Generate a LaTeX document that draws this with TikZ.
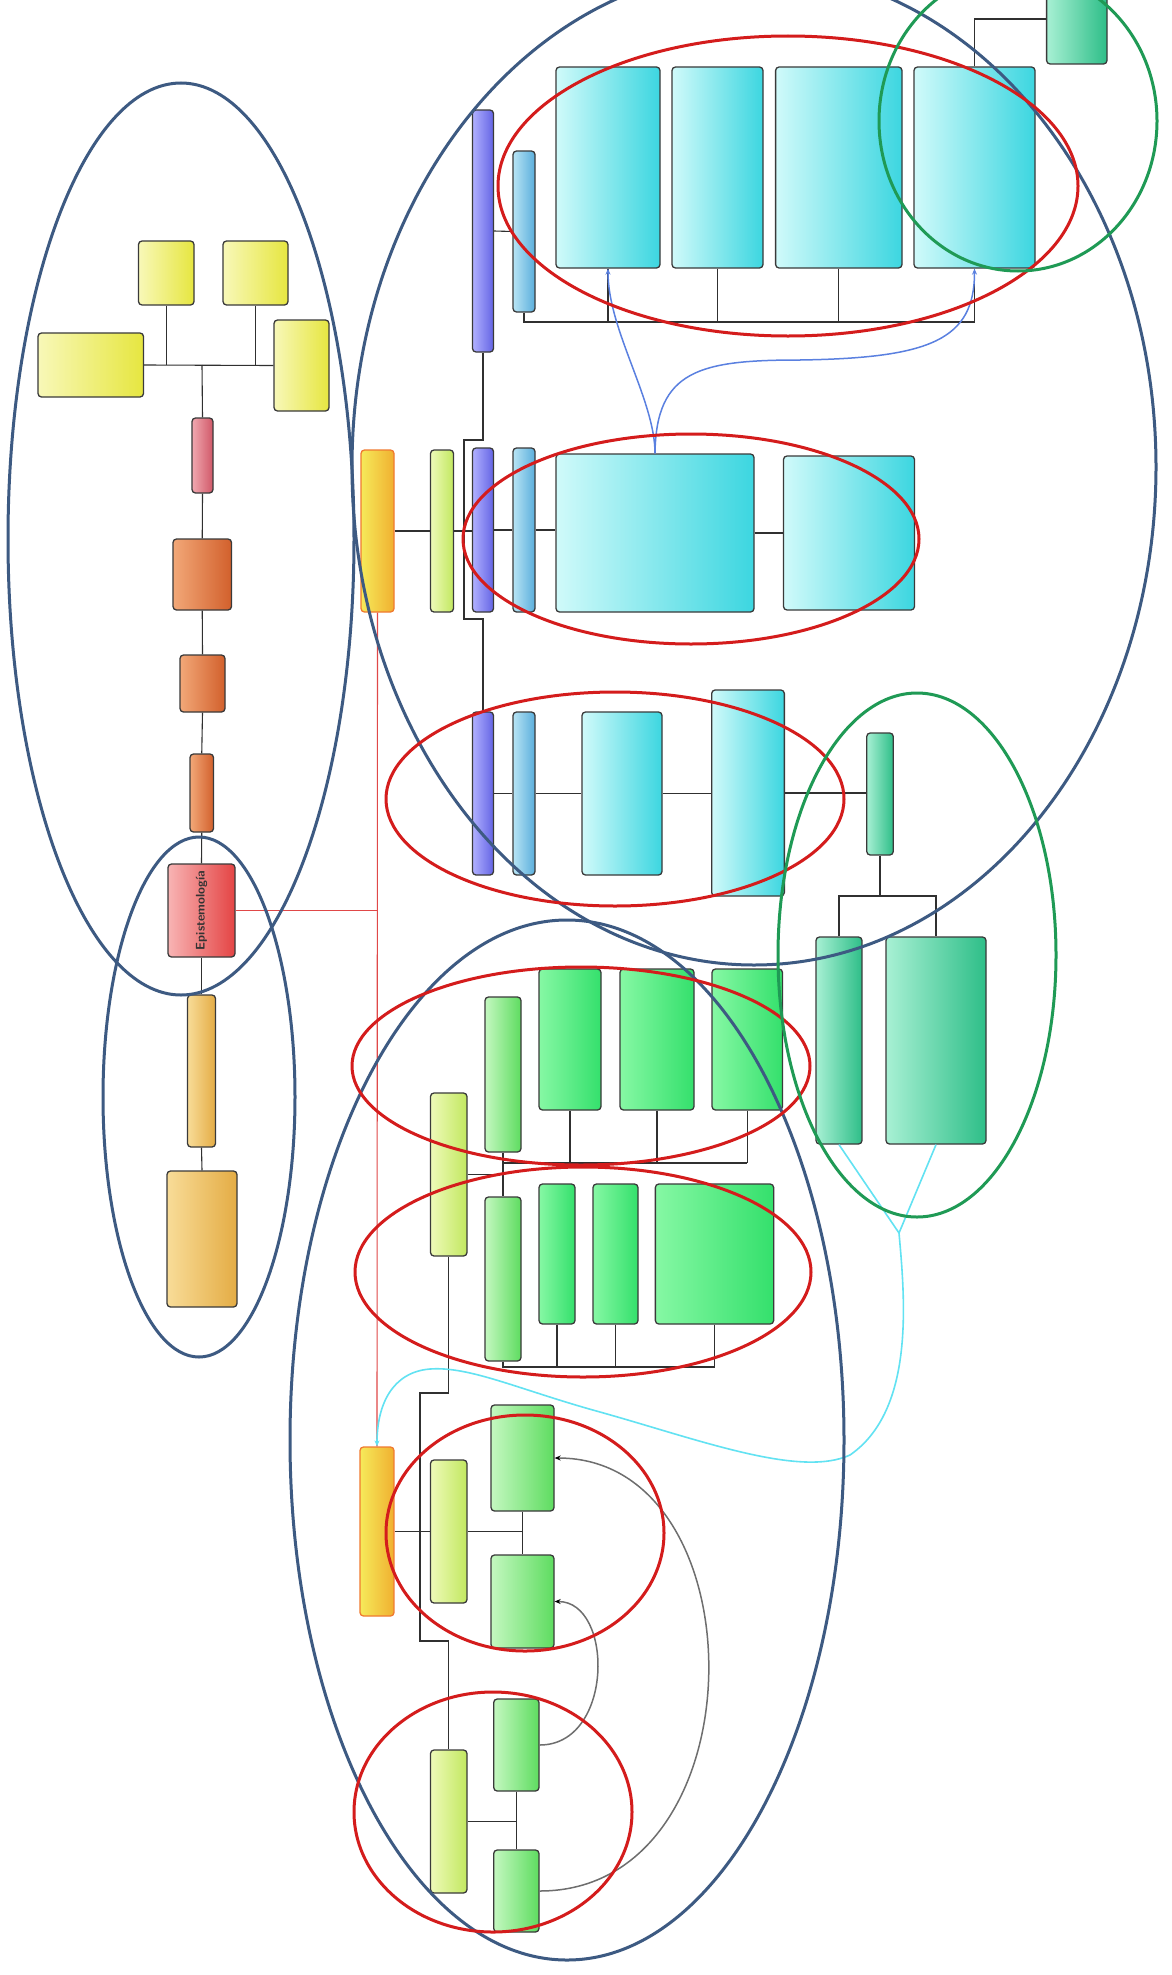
\documentclass[tikz,border=0pt]{standalone}
\usetikzlibrary{arrows.meta}
\definecolor{bord}{HTML}{3A3A3A}
\definecolor{cline}{HTML}{303030}
\definecolor{yelA}{HTML}{F8F8B8}\definecolor{yelB}{HTML}{E6E640}
\definecolor{pnkA}{HTML}{F0A8B0}\definecolor{pnkB}{HTML}{D05868}
\definecolor{orgA}{HTML}{F2A878}\definecolor{orgB}{HTML}{D2602C}
\definecolor{rootA}{HTML}{F8B4B4}\definecolor{rootB}{HTML}{E44444}
\definecolor{tanA}{HTML}{F8DC98}\definecolor{tanB}{HTML}{E4AC44}
\definecolor{parA}{HTML}{F6EA5A}\definecolor{parB}{HTML}{F0B030}\definecolor{parD}{HTML}{F07A30}
\definecolor{ygrA}{HTML}{EEFAB8}\definecolor{ygrB}{HTML}{C2E860}
\definecolor{purA}{HTML}{B0B0FF}\definecolor{purB}{HTML}{6464E4}
\definecolor{skyA}{HTML}{B8E4F4}\definecolor{skyB}{HTML}{5AAEDC}
\definecolor{cynA}{HTML}{D0FAFA}\definecolor{cynB}{HTML}{3CD6E0}
\definecolor{grnA}{HTML}{86F8A4}\definecolor{grnB}{HTML}{34E06C}
\definecolor{lgrA}{HTML}{C4F8C0}\definecolor{lgrB}{HTML}{5EDC60}
\definecolor{teaA}{HTML}{A8F0D4}\definecolor{teaB}{HTML}{2EBE88}
\definecolor{ellBlue}{HTML}{3D5A82}
\definecolor{ellRed}{HTML}{D41C1C}
\definecolor{ellGreen}{HTML}{1F9A55}
\definecolor{linkRed}{HTML}{E04848}
\definecolor{linkBlue}{HTML}{5A80E0}
\definecolor{linkCyan}{HTML}{62E2F2}
\definecolor{linkGray}{HTML}{6E6E6E}
\tikzset{
  bx/.style={draw=bord,line width=1.3pt,rounded corners=3.5pt,inner sep=0pt},
  shd/.style 2 args={left color=#1,right color=#2},
  yel/.style={shd={yelA}{yelB}},
  pnk/.style={shd={pnkA}{pnkB}},
  org/.style={shd={orgA}{orgB}},
  rootc/.style={shd={rootA}{rootB}},
  tan/.style={shd={tanA}{tanB}},
  par/.style={shd={parA}{parB},draw=parD},
  ygr/.style={shd={ygrA}{ygrB}},
  pur/.style={shd={purA}{purB}},
  sky/.style={shd={skyA}{skyB}},
  cyn/.style={shd={cynA}{cynB}},
  grn/.style={shd={grnA}{grnB}},
  lgr/.style={shd={lgrA}{lgrB}},
  tea/.style={shd={teaA}{teaB}},
  conn/.style={draw=cline,line width=1.1pt},
  redlink/.style={draw=linkRed,line width=1.1pt},
  bluearr/.style={draw=linkBlue,line width=1.5pt,-{Stealth[length=6pt,width=5pt]}},
  cyanline/.style={draw=linkCyan,line width=1.6pt},
  cyanarr/.style={draw=linkCyan,line width=1.6pt,-{Stealth[length=6pt,width=5pt]}},
  grayarr/.style={draw=linkGray,line width=1.5pt,-{Stealth[length=6pt,width=5pt,color=black]}},
  ellb/.style={draw=ellBlue,line width=3pt},
  ellr/.style={draw=ellRed,line width=3pt},
  ellg/.style={draw=ellGreen,line width=3pt},
}
\newcommand\bxn[6]{\node[bx,#6,minimum width=#4pt,minimum height=#5pt] (#1) at (#2,#3) {};}
\begin{document}
\begin{tikzpicture}[x=1pt,y=-1pt]
\useasboundingbox[fill=white] (0,0) rectangle (1172,1975);
% ---------- left chain ----------
\bxn{Y1}{90.75}{365}{105.5}{64}{yel}
\bxn{Y2}{166.25}{273}{55.5}{64}{yel}
\bxn{Y3}{255.5}{273}{65}{64}{yel}
\bxn{Y4}{301.5}{365.5}{55}{91}{yel}
\bxn{PK}{202.5}{455.5}{21}{75}{pnk}
\bxn{O1}{202.25}{574.5}{58.5}{71}{org}
\bxn{O2}{202.5}{683.5}{45}{57}{org}
\bxn{O3}{201.75}{793}{23.5}{78}{org}
\bxn{root}{201.5}{910.5}{67}{93}{rootc}
\node[rotate=90,font=\sffamily\bfseries\fontsize{12.5}{14}\selectfont,text=black!80] (roottxt) at (root.center) {Epistemología};
\bxn{T1}{201.5}{1071}{28}{152}{tan}
\bxn{T2}{202}{1239}{70}{136}{tan}
% ---------- upper right ----------
\bxn{PA1}{377.5}{531}{33}{162}{par}
\bxn{GY1}{442}{531}{23}{162}{ygr}
\bxn{PU1}{483}{231}{21}{242}{pur}
\bxn{PU2}{483}{530}{21}{164}{pur}
\bxn{PU3}{483}{793.5}{21}{163}{pur}
\bxn{SK1}{524}{231.5}{22}{161}{sky}
\bxn{SK2}{524}{530}{22}{164}{sky}
\bxn{SK3}{524}{793.5}{22}{163}{sky}
\bxn{A}{608}{167.5}{104}{201}{cyn}
\bxn{B}{717.5}{167.5}{91}{201}{cyn}
\bxn{C}{838.8}{167.5}{126.4}{201}{cyn}
\bxn{D}{974.5}{167.5}{121}{201}{cyn}
\bxn{E}{1076.8}{19}{60.4}{90}{tea}
\bxn{F}{655}{533}{198}{158}{cyn}
\bxn{G}{849}{533}{131}{154}{cyn}
\bxn{H}{622}{793.5}{80}{163}{cyn}
\bxn{I}{748}{793}{72.7}{206}{cyn}
\bxn{J}{880}{794}{26.5}{122}{tea}
\bxn{K}{839}{1040.5}{46}{207}{tea}
\bxn{L}{936}{1040.5}{100}{207}{tea}
% ---------- lower ----------
\bxn{PA2}{377}{1531.5}{34}{169}{par}
\bxn{P}{448.75}{1174.5}{36.5}{163}{ygr}
\bxn{T}{448.75}{1531.5}{36.5}{143}{ygr}
\bxn{S}{448.75}{1821.5}{36.5}{143}{ygr}
\bxn{Q}{503}{1074.5}{36}{155}{lgr}
\bxn{R}{503}{1279}{36}{164}{lgr}
\bxn{GA}{570}{1039.5}{62}{141}{grn}
\bxn{GB}{657}{1039.5}{74}{141}{grn}
\bxn{GC}{747.25}{1039.5}{70.5}{141}{grn}
\bxn{HA}{557}{1254}{36}{140}{grn}
\bxn{HB}{615.5}{1254}{45}{140}{grn}
\bxn{HC}{714.5}{1254}{118.3}{140}{grn}
\bxn{U}{522.5}{1458}{63}{106}{lgr}
\bxn{V}{522.5}{1601.5}{63}{93}{lgr}
\bxn{W}{516.35}{1745}{45.3}{92}{lgr}
\bxn{X}{516.35}{1891}{45.3}{82}{lgr}
% ---------- connectors: left chain ----------
\coordinate (ybar) at (202,365);
\draw[conn] (Y1.east) -- (Y4.west);
\draw[conn] (Y2.south) -- (Y2.south |- ybar);
\draw[conn] (Y3.south) -- (Y3.south |- ybar);
\draw[conn] (ybar) -- (PK.north);
\draw[conn] (PK.south) -- (O1.north);
\draw[conn] (O1.south) -- (O2.north);
\draw[conn] (O2.south) -- (O3.north);
\draw[conn] (O3.south) -- (root.north);
\draw[conn] (root.south) -- (T1.north);
\draw[conn] (T1.south) -- (T2.north);
% red links
\coordinate (rj) at (377.5,910.5);
\draw[redlink] (root.east) -- (rj);
\draw[redlink] (PA1.south) -- (PA2.north);
% ---------- connectors: upper ----------
\draw[conn] (PA1.east) -- (GY1.west);
\draw[conn] (GY1.east) -- (GY1.east -| PU2.west);
\coordinate (brT) at (464,440);
\coordinate (brB) at (464,619);
\draw[conn] (PU1.south) |- (brT) -- (brB) -| (PU3.north);
\draw[conn] (PU1.east) -- (SK1.west);
\draw[conn] (PU2.east) -- (SK2.west);
\draw[conn] (PU3.east) -- (SK3.west);
\coordinate (bus) at (974.5,322);
\draw[conn] (SK1.south) |- (bus);
\draw[conn] (A.south) -- (A.south |- bus);
\draw[conn] (B.south) -- (B.south |- bus);
\draw[conn] (C.south) -- (C.south |- bus);
\draw[conn] (D.south) -- (bus);
\draw[conn] (D.north) |- (E.west);
\draw[conn] (SK2.east) -- (SK2.east -| F.west);
\draw[conn] (F.east) -- (G.west);
\draw[conn] (SK3.east) -- (SK3.east -| H.west);
\draw[conn] (H.east) -- (H.east -| I.west);
\draw[conn] (I.east) -- (I.east -| J.west);
\coordinate (jf) at (880,896);
\draw[conn] (J.south) -- (jf);
\draw[conn] (K.north) -- (K.north |- jf) -- (L.north |- jf) -- (L.north);
% ---------- connectors: lower ----------
\coordinate (b1) at (503,1163);
\coordinate (b2) at (503,1367);
\draw[conn] (P.east) -- (P.east -| Q.south);
\draw[conn] (Q.south) -- (R.north);
\draw[conn] (b1) -- (b1 -| GC.south);
\draw[conn] (GA.south) -- (GA.south |- b1);
\draw[conn] (GB.south) -- (GB.south |- b1);
\draw[conn] (GC.south) -- (GC.south |- b1);
\draw[conn] (R.south) -- (b2) -- (b2 -| HC.south);
\draw[conn] (HA.south) -- (HA.south |- b2);
\draw[conn] (HB.south) -- (HB.south |- b2);
\draw[conn] (HC.south) -- (HC.south |- b2);
\coordinate (lbT) at (420,1393);
\coordinate (lbB) at (420,1641);
\draw[conn] (P.south) |- (lbT) -- (lbB) -| (S.north);
\draw[conn] (PA2.east) -- (T.west);
\draw[conn] (T.east) -- (T.east -| U.south);
\draw[conn] (U.south) -- (V.north);
\draw[conn] (S.east) -- (S.east -| W.south);
\draw[conn] (W.south) -- (X.north);
% ---------- cross links ----------
\draw[grayarr] (W.east) .. controls (614,1745) and (614,1601.5) .. (V.east);
\draw[grayarr] (X.east) .. controls (762,1891) and (762,1458) .. (U.east);
\draw[bluearr] (F.north) .. controls (655,400) and (608,330) .. (A.south);
\draw[bluearr] (F.north) .. controls (656,370) and (700,360) .. (800,360) .. controls (930,358) and (974.5,340) .. (D.south);
\coordinate (jc) at (899,1233);
\draw[cyanline] (K.south) -- (jc);
\draw[cyanline] (L.south) -- (jc);
\draw[cyanarr] (jc) .. controls (905,1300) and (915,1410) .. (850,1455) .. controls (800,1478) and (700,1440) .. (600,1412) .. controls (520,1390) and (470,1366) .. (430,1369) .. controls (392,1372) and (377,1405) .. (PA2.north);
% ---------- highlight ellipses ----------
\draw[ellb] (181,539) ellipse [x radius=173pt, y radius=456pt];
\draw[ellb] (199,1097) ellipse [x radius=96pt, y radius=260pt];
\draw[ellb] (754,467) ellipse [x radius=402pt, y radius=498pt];
\draw[ellb] (567,1440) ellipse [x radius=277pt, y radius=520pt];
\draw[ellr] (788,186) ellipse [x radius=290pt, y radius=150pt];
\draw[ellr] (691,539) ellipse [x radius=228pt, y radius=105pt];
\draw[ellr] (615,799) ellipse [x radius=229pt, y radius=107pt];
\draw[ellr] (581,1066) ellipse [x radius=229pt, y radius=99pt];
\draw[ellr] (583,1272) ellipse [x radius=228pt, y radius=105pt];
\draw[ellr] (525,1533) ellipse [x radius=139pt, y radius=118pt];
\draw[ellr] (493,1812) ellipse [x radius=139pt, y radius=120pt];
\draw[ellg] (1018,121) ellipse [x radius=139pt, y radius=150pt];
\draw[ellg] (917,955) ellipse [x radius=139pt, y radius=262pt];
\end{tikzpicture}
\end{document}
